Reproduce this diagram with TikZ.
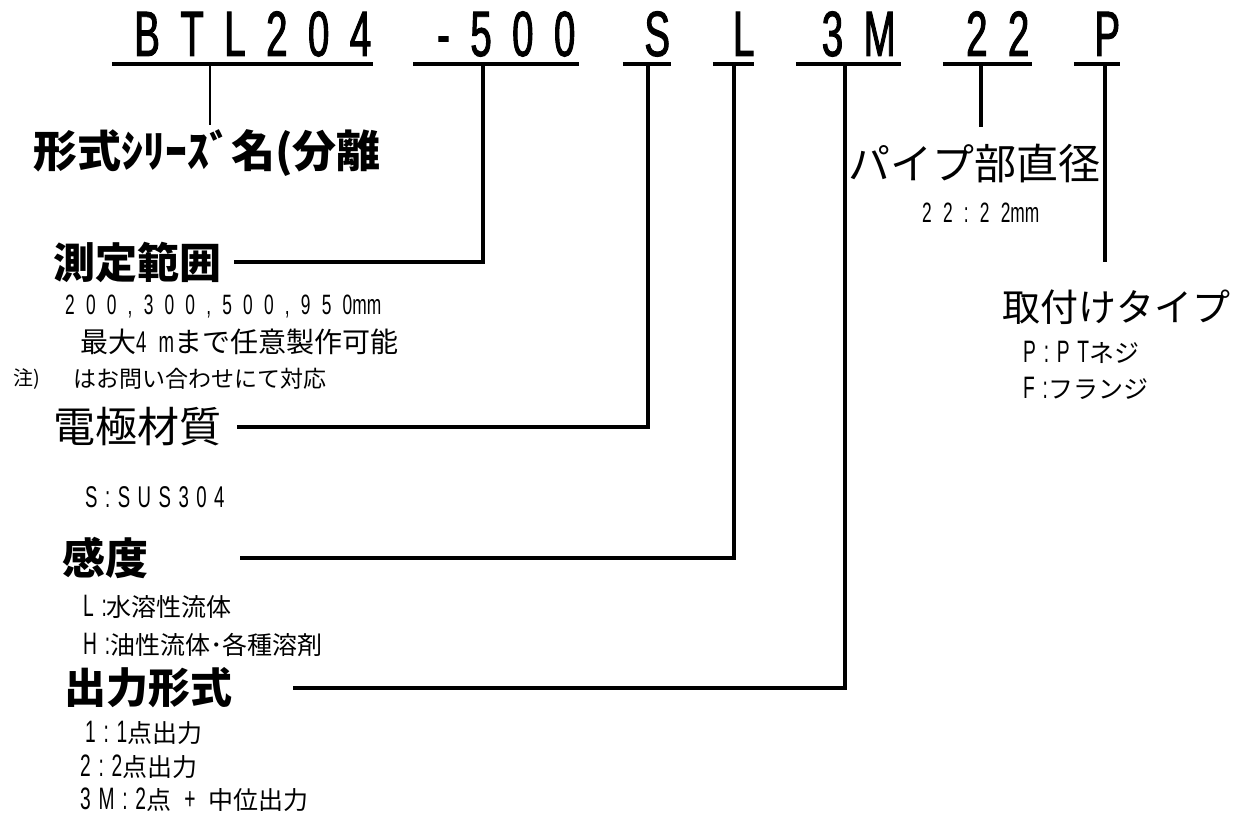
\documentclass[tikz,border=0pt]{standalone}
\usepackage{fontspec}
\setmainfont{Noto Sans CJK JP}
\newfontfamily\bigcodefont[FakeStretch=0.6,FakeBold=1.5,LetterSpace=32]{Liberation Sans}
\newfontfamily\codefont[FakeStretch=0.62,LetterSpace=40]{Liberation Sans}
\newfontfamily\latfont[FakeStretch=0.62,LetterSpace=25]{Liberation Sans}
\newfontfamily\narrowfont[FakeStretch=0.62]{Liberation Sans}
\newcommand\fs[1]{\fontsize{#1}{#1}\selectfont}
\newcommand\lat[1]{{\latfont\fs{31}#1}}
\tikzset{
  code/.style={anchor=base, inner sep=0pt, font=\bigcodefont\fs{64}},
  head/.style={anchor=west, inner sep=0pt, font=\bfseries\fs{42}},
  headr/.style={anchor=west, inner sep=0pt, font=\fs{42}},
  note/.style={anchor=west, inner sep=0pt, font=\fs{25}},
  uline/.style={line width=4pt},
  stem/.style={line width=4pt},
  thinstem/.style={line width=2.5pt}
}
\begin{document}
\begin{tikzpicture}[x=1pt, y=-1pt]
				\useasboundingbox (0,0) rectangle (1239,816);
				% model code
				\node[code, minimum width=261] (btl) at (242.5,56) {\makebox[0pt]{\kern.32em BTL204}};
				\node[code, minimum width=165] (m500) at (496,56) {\makebox[0pt]{\kern.32em -500}};
				\node[code, minimum width=48] (s) at (647,56) {\makebox[0pt]{\kern.32em S}};
				\node[code, minimum width=41] (l) at (733.5,56) {\makebox[0pt]{\kern.32em L}};
				\node[code, minimum width=105] (m3) at (848.5,56) {\makebox[0pt]{\kern.32em 3M}};
				\node[code, minimum width=89] (d22) at (987.5,56) {\makebox[0pt]{\kern.32em 22}};
				\node[code, minimum width=46] (p) at (1097,56) {\makebox[0pt]{\kern.32em P}};
				\foreach \n in {btl,m500,s,l,m3,d22,p}
				\draw[uline] ([yshift=-8pt]\n.base west) -- ([yshift=-8pt]\n.base east);
				
				\path
				(210,64) coordinate (tbtl)
				(210,125) coordinate (bbtl)
				(483,64) coordinate (t500)
				(648,64) coordinate (ts)
				(734,64) coordinate (tl)
				(845,64) coordinate (t3m)
				(981,64) coordinate (t22)
				(981,127) coordinate (b22)
				(1105,64) coordinate (tp)
				(1105,262) coordinate (bp)
				;
				
				% item names
				\node[head, font=\bfseries\fs{44}] (series) at (33,153) {形式ｼﾘｰｽﾞ名(分離};
				\node[head] (range) at (53,262) {測定範囲};
				\node[headr] (material) at (53,427) {電極材質};
				\node[head, font=\bfseries\fs{43}] (sens) at (62,558) {感度};
				\node[head] (output) at (64,688) {出力形式};
				\node[headr] (pipe) at (848,163) {パイプ部直径};
				\node[headr, font=\fs{38}] (mount) at (1002,307) {取付けタイプ};
				
				% choices
				\node[note, font=\codefont\fs{28}] (rangeA) at (65,307) {200,300,500,950{\narrowfont mm}};
				\node[note, font=\fs{28}] (rangeB) at (80,342) {最大{\codefont\fs{30}4m}まで任意製作可能};
				\node[note, font=\fs{20}] (noteA) at (13,379) {注)};
				\node[note, font=\fs{23}] (noteB) at (73,379) {はお問い合わせにて対応};
				\node[note, font=\latfont\fs{30}] (matA) at (85,497) {S:SUS304};
				\node[note] (sensA) at (83,607) {\lat{L:}水溶性流体};
				\node[note] (sensB) at (83,645) {\lat{H:}油性流体･各種溶剤};
				\node[note] (outA) at (85,733) {\lat{1:1}点出力};
				\node[note] (outB) at (80,767) {\lat{2:2}点出力};
				\node[note] (outC) at (80,800) {\lat{3M:2}点\lat{\ +\ }中位出力};
				\node[note, font=\codefont\fs{28}] (pipeA) at (922,213) {22:22{\narrowfont mm}};
				\node[note] (mountA) at (1023,352) {\lat{P:PT}ネジ};
				\node[note] (mountB) at (1023,388) {\lat{F:}フランジ};
				
				% leaders
				\draw[thinstem] (tbtl) -- (bbtl);
				\draw[stem] (t500) |- ([xshift=13pt]range.east);
				\draw[stem] (ts) |- ([xshift=16pt]material.east);
				\draw[stem] (tl) |- ([xshift=92pt]sens.east);
				\draw[stem] (t3m) |- ([xshift=61pt]output.east);
				\draw[stem] (t22) -- (b22);
				\draw[stem] (tp) -- (bp);
		\end{tikzpicture}
\end{document}
